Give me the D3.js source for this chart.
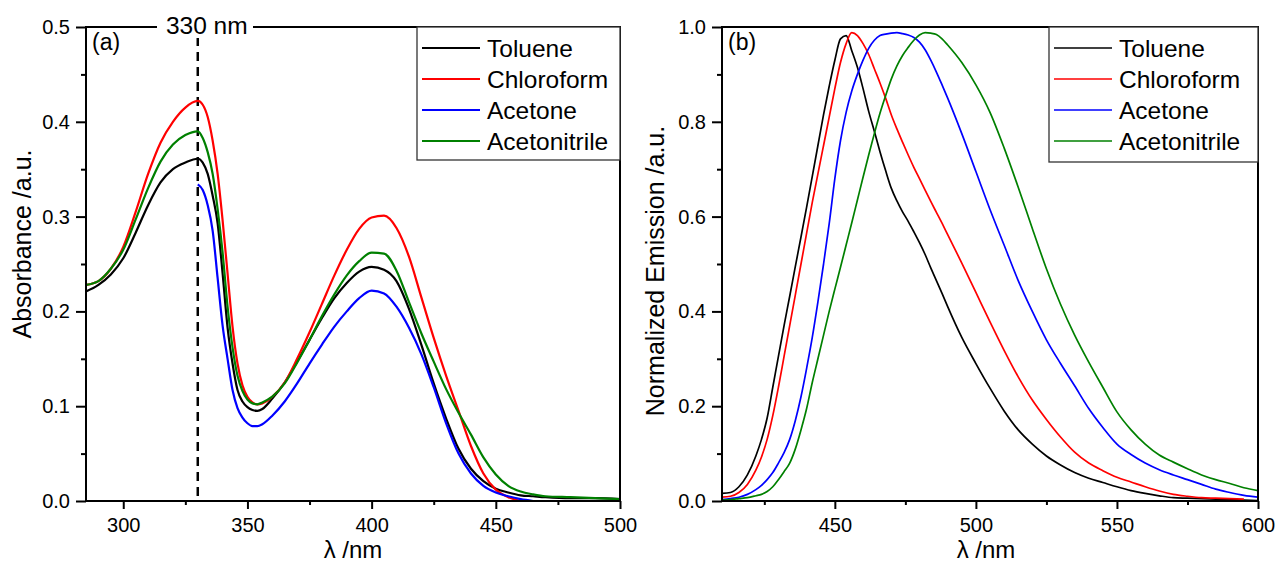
<!DOCTYPE html>
<html>
<head>
<meta charset="utf-8">
<script src="https://cdnjs.cloudflare.com/ajax/libs/d3/7.8.5/d3.min.js"></script>
<style>
  body { margin: 0; background: #fff; }
  svg { font-family: "Liberation Sans", Arial, sans-serif; }
</style>
</head>
<body>
<div id="chart"></div>
<script>

var solvents = ["Toluene", "Chloroform", "Acetone", "Acetonitrile"];
var colors = ["#000000", "#ff0000", "#0000ff", "#008000"];

// (a) absorbance spectra
var absWavelength = [285, 290, 295, 300, 305, 310, 315, 320, 325, 330, 332, 334, 336, 338, 340, 342, 344, 346, 348, 350,
  352, 354, 356, 360, 365, 370, 375, 380, 385, 390, 395, 400, 405, 410, 415, 420, 425, 430, 435, 440,
  445, 450, 455, 460, 465, 470, 480, 490, 500];
var absToluene = [.221, .228, .239, .256, .283, .312, .336, .350, .357, .361, .357, .345, .322, .293, .240, .183, .145, .117, .105, .099,
  .096, .095, .097, .108, .125, .147, .170, .193, .214, .230, .242, .247, .244, .232, .203, .165, .124, .087, .055, .034,
  .021, .013, .009, .006, .005, .004, .003, .003, .002];
var absChloroform = [.228, .232, .245, .268, .305, .345, .378, .400, .415, .422, .418, .405, .380, .345, .296, .240, .184, .145, .122, .110,
  .104, .102, .103, .110, .125, .150, .178, .208, .238, .265, .287, .299, .301, .288, .258, .215, .172, .132, .095, .058,
  .029, .012, .004, .000, null, null, null, null, null];
var absAcetone = [null, null, null, null, null, null, null, null, null, .334, .328, .312, .285, .235, .185, .150, .117, .098, .088, .082,
  .079, .079, .081, .090, .105, .124, .145, .165, .184, .200, .214, .222, .219, .205, .183, .155, .120, .082, .050, .029,
  .016, .009, .005, .002, .000, null, null, null, null];
var absAcetonitrile = [.228, .232, .245, .265, .297, .330, .358, .376, .386, .390, .383, .368, .345, .308, .262, .205, .162, .132, .116, .107,
  .103, .102, .104, .110, .124, .146, .170, .195, .218, .238, .253, .262, .261, .243, .210, .177, .147, .118, .093, .070,
  .046, .028, .016, .010, .007, .005, .004, .003, .002];

// (b) normalized emission spectra
var emWavelength = [410, 413, 416, 419, 422, 424, 426, 428, 430, 432, 434, 436, 438, 440, 442, 444, 446, 448, 450, 452,
  454, 456, 458, 460, 462, 464, 466, 468, 470, 472, 474, 476, 478, 480, 482, 484, 486, 488, 490, 495,
  500, 505, 510, 515, 520, 525, 530, 535, 540, 545, 550, 555, 560, 565, 570, 575, 580, 585, 590, 595, 600];
var emToluene = [.016, .018, .030, .055, .095, .130, .175, .240, .305, .370, .432, .495, .557, .620, .685, .750, .815, .875, .930, .975,
  .982, .950, .915, .870, .822, .780, .737, .697, .660, .633, .610, .590, .568, .545, .520, .492, .465, .438, .410, .345,
  .290, .238, .190, .150, .120, .095, .076, .060, .048, .039, .030, .022, .016, .011, .007, .006, .005, .004, .003, .002, .001];
var emChloroform = [.008, .010, .018, .035, .065, .093, .130, .180, .240, .305, .370, .435, .500, .565, .630, .690, .750, .810, .870, .925,
  .965, .988, .982, .965, .942, .912, .882, .850, .815, .785, .757, .730, .704, .680, .656, .632, .609, .586, .562, .502,
  .440, .378, .318, .262, .213, .172, .135, .103, .080, .064, .050, .040, .030, .021, .014, .010, .007, .006, .005, .004, null];
var emAcetone = [.003, .005, .008, .014, .024, .033, .045, .060, .080, .102, .130, .170, .220, .280, .345, .420, .500, .585, .680, .760,
  .820, .865, .900, .930, .955, .972, .982, .985, .987, .988, .986, .983, .978, .968, .952, .930, .905, .878, .850, .775,
  .695, .615, .540, .465, .400, .340, .290, .243, .195, .155, .120, .098, .080, .066, .055, .045, .035, .025, .018, .012, .008];
var emAcetonitrile = [.002, .003, .005, .007, .011, .014, .020, .030, .045, .062, .080, .110, .150, .195, .250, .300, .350, .400, .447, .493,
  .540, .587, .635, .683, .730, .775, .818, .855, .890, .918, .940, .957, .972, .983, .988, .987, .984, .975, .962, .925,
  .878, .820, .745, .662, .575, .490, .415, .350, .293, .240, .188, .150, .120, .097, .082, .068, .055, .045, .037, .028, .022];

var absXTicks = [300, 350, 400, 450, 500];
var absXMinor = [325, 375, 425, 475];
var absYTicks = [0, 0.1, 0.2, 0.3, 0.4, 0.5];
var absYMinor = [0.05, 0.15, 0.25, 0.35, 0.45];
var emXTicks = [450, 500, 550, 600];
var emXMinor = [425, 475, 525, 575];
var emYTicks = [0, 0.2, 0.4, 0.6, 0.8, 1.0];
var emYMinor = [0.1, 0.3, 0.5, 0.7, 0.9];

var svg = d3.select("#chart").append("svg")
      .attr("width", 1275)
      .attr("height", 562);

function drawPanel(p) {
  var x = d3.scaleLinear().domain(p.xDomain).range([p.left, p.right]);
  var y = d3.scaleLinear().domain(p.yDomain).range([p.bottom, p.top]);

  var g = svg.append("g");

  g.append("defs").append("clipPath")
      .attr("id", p.id + "clip")
    .append("rect")
      .attr("x", p.left)
      .attr("y", p.top)
      .attr("width", p.right - p.left)
      .attr("height", p.bottom - p.top);

  var line = d3.line()
        .defined(d => d[1] != null)
        .curve(d3.curveMonotoneX)
        .x(d => x(d[0]))
        .y(d => y(d[1]));

  // dashed marker line goes under the curves
  if (p.marker) {
    g.append("line")
        .attr("x1", x(p.marker)).attr("x2", x(p.marker))
        .attr("y1", 37).attr("y2", p.bottom)
        .attr("stroke", "#000")
        .attr("stroke-width", 2.5)
        .attr("stroke-dasharray", "9,6");
  }

  p.series.forEach(function(vals, i) {
    g.append("path")
        .attr("clip-path", "url(#" + p.id + "clip)")
        .attr("fill", "none")
        .attr("stroke", colors[i])
        .attr("stroke-width", p.lineWidth)
        .attr("stroke-linejoin", "round")
        .attr("d", line(p.wavelength.map((w, k) => [w, vals[k]])));
  });

  // frame
  g.append("rect")
      .attr("x", p.left).attr("y", p.top)
      .attr("width", p.right - p.left)
      .attr("height", p.bottom - p.top)
      .attr("fill", "none")
      .attr("stroke", "#000")
      .attr("stroke-width", 2);

  g.append("g")
      .attr("transform", "translate(0," + p.bottom + ")")
      .call(d3.axisBottom(x).tickValues(p.xTicks).tickSize(8).tickPadding(9).tickSizeOuter(0));
  g.append("g")
      .attr("transform", "translate(0," + p.bottom + ")")
      .call(d3.axisBottom(x).tickValues(p.xMinor).tickSize(4).tickFormat("").tickSizeOuter(0));

  g.append("g")
      .attr("transform", "translate(" + p.left + ",0)")
      .call(d3.axisLeft(y).tickValues(p.yTicks).tickSize(10).tickPadding(6).tickSizeOuter(0)
        .tickFormat(d3.format(".1f")));
  g.append("g")
      .attr("transform", "translate(" + p.left + ",0)")
      .call(d3.axisLeft(y).tickValues(p.yMinor).tickSize(5).tickFormat("").tickSizeOuter(0));

  g.selectAll(".domain").remove();
  g.selectAll(".tick line").attr("stroke", "#000").attr("stroke-width", 2);
  g.selectAll(".tick text")
      .attr("fill", "#000")
      .attr("font-size", 20)
      .attr("font-family", "Liberation Sans, Arial, sans-serif");

  g.append("text")
      .attr("x", p.left + 6)
      .attr("y", 50)
      .attr("font-size", 23)
      .text(p.label);

  g.append("text")
      .attr("transform", "translate(" + p.yTitleX + "," + p.yTitleY + ") rotate(-90)")
      .attr("text-anchor", "middle")
      .attr("font-size", 25)
      .text(p.yTitle);

  g.append("text")
      .attr("x", p.xTitleX)
      .attr("y", 558)
      .attr("text-anchor", "middle")
      .attr("font-size", 24)
      .text("\u03bb /nm");

  // legend
  var lg = g.append("g");
  lg.append("rect")
      .attr("x", p.legend.x).attr("y", p.top)
      .attr("width", p.right - p.legend.x)
      .attr("height", p.legend.h)
      .attr("fill", "#fff")
      .attr("stroke", "#333")
      .attr("stroke-width", 1.3);

  var item = lg.selectAll(".legend")
        .data(solvents)
      .enter().append("g")
        .attr("class", "legend")
        .attr("transform", (d, i) => `translate(${p.legend.x},${48 + i * 31})`);

  item.append("line")
      .attr("x1", 5).attr("x2", 63)
      .attr("stroke", (d, i) => colors[i])
      .attr("stroke-width", p.lineWidth);

  item.append("text")
      .attr("x", 70)
      .attr("y", 9)
      .attr("font-size", 24.5)
      .text(d => d);

  return {x: x, y: y, g: g};
}

var a = drawPanel({
  id: "a",
  left: 86, right: 620, top: 27, bottom: 501,
  xDomain: [285, 500], yDomain: [0, 0.5],
  xTicks: absXTicks, xMinor: absXMinor, yTicks: absYTicks, yMinor: absYMinor,
  wavelength: absWavelength,
  series: [absToluene, absChloroform, absAcetone, absAcetonitrile],
  lineWidth: 2.2,
  marker: 330,
  label: "(a)",
  yTitle: "Absorbance /a.u.", yTitleX: 31, yTitleY: 244,
  xTitleX: 353,
  legend: {x: 417, h: 133}
});

// the "330 nm" note sits on the top border
a.g.append("rect")
    .attr("x", 157).attr("y", 12)
    .attr("width", 96).attr("height", 26)
    .attr("fill", "#fff");
a.g.append("text")
    .attr("x", a.x(330) + 9)
    .attr("y", 34)
    .attr("text-anchor", "middle")
    .attr("font-size", 24.5)
    .text("330 nm");

drawPanel({
  id: "b",
  left: 722, right: 1258, top: 27, bottom: 501,
  xDomain: [410, 600], yDomain: [0, 1],
  xTicks: emXTicks, xMinor: emXMinor, yTicks: emYTicks, yMinor: emYMinor,
  wavelength: emWavelength,
  series: [emToluene, emChloroform, emAcetone, emAcetonitrile],
  lineWidth: 1.7,
  label: "(b)",
  yTitle: "Normalized Emission /a.u.", yTitleX: 664, yTitleY: 271,
  xTitleX: 986,
  legend: {x: 1049, h: 135}
});

</script>
</body>
</html>
